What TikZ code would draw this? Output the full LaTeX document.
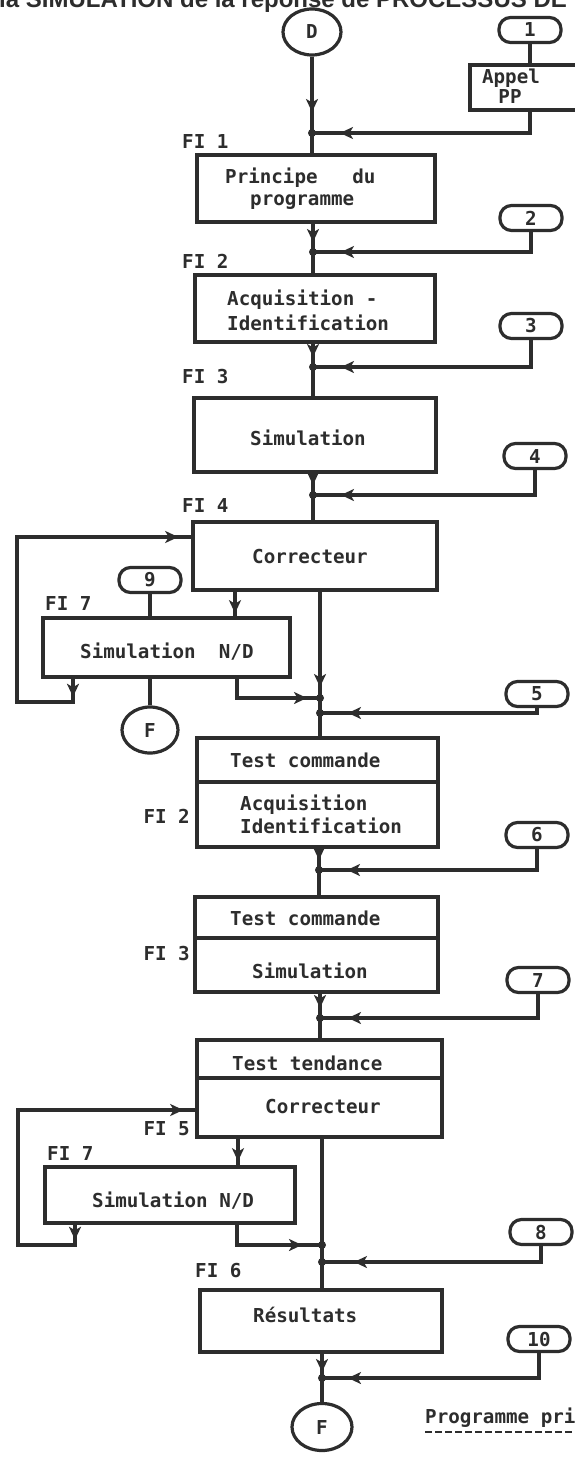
\documentclass[tikz,border=0pt]{standalone}
\usepackage{fontspec}
\usetikzlibrary{arrows.meta,shapes.geometric,decorations.markings}
\newfontfamily\monof{DejaVu Sans Mono}
\newfontfamily\titf{Liberation Sans}
\newcommand{\lblfont}{\monof\bfseries\fontsize{19.2}{22}\selectfont}
\definecolor{ink}{RGB}{45,45,45}
\tikzset{
  ftip/.tip={Stealth[length=13pt,width=12pt,inset=3.5pt]},
  ln/.style={draw=ink, line width=3.2pt},
  bx/.style={draw=ink, line width=3.6pt, rectangle, inner sep=0pt},
  trm/.style={draw=ink, line width=3.2pt, rectangle, rounded corners=11.5pt, minimum width=62pt, minimum height=25pt, inner sep=0pt, font=\lblfont, text=ink},
  elp/.style={draw=ink, line width=3.2pt, ellipse, inner sep=0pt, font=\lblfont, text=ink},
  txt/.style={font=\lblfont, text=ink, inner sep=0pt, text height=11pt, text depth=0pt, anchor=west},
  jdot/.style={circle, fill=ink, inner sep=0pt, minimum size=8pt},
  marr/.style={postaction={decorate}, decoration={markings, mark=at position #1 with {\arrow{ftip}}}},
  marrtwo/.style 2 args={postaction={decorate}, decoration={markings, mark=at position #1 with {\arrow{ftip}}, mark=at position #2 with {\arrow{ftip}}}}
}
\begin{document}
\begin{tikzpicture}[x=1pt,y=-1pt]
\useasboundingbox (0,0) rectangle (575,1458);
\fill[white] (0,0) rectangle (575,1458);

% cut-off heading (only its lower part lies on the page, as in the scan)
\node[anchor=base west, font=\titf\bfseries\fontsize{24}{28}\selectfont, text=ink, inner sep=0pt] (title) at (-1,8) {la SIMULATION de la réponse de PROCESSUS DE};

% start / end
\node[elp, minimum width=58pt, minimum height=46pt] (D) at (312,32) {D};
\node[elp, minimum width=56pt, minimum height=46pt] (F1) at (150,730) {F};
\node[elp, minimum width=60pt, minimum height=47pt] (F2) at (322,1427) {F};

% terminals
\node[trm] (t1) at (530,30) {1};
\node[trm] (t2) at (531,218) {2};
\node[trm] (t3) at (531,326) {3};
\node[trm] (t4) at (535,456) {4};
\node[trm] (t9) at (150,580) {9};
\node[trm] (t5) at (537,694) {5};
\node[trm] (t6) at (537,835) {6};
\node[trm] (t7) at (538,980) {7};
\node[trm] (t8) at (541,1232) {8};
\node[trm] (t10) at (539,1339) {10};

% boxes
\node[bx, minimum width=130pt, minimum height=45pt] (appel) at (535,87.5) {};
\node[bx, minimum width=238pt, minimum height=67pt] (prin) at (316,188.5) {};
\node[bx, minimum width=240pt, minimum height=67pt] (acq) at (315,308.5) {};
\node[bx, minimum width=242pt, minimum height=74pt] (sim) at (315,435) {};
\node[bx, minimum width=244pt, minimum height=68pt] (corr) at (315,556) {};
\node[bx, minimum width=247pt, minimum height=59pt] (snd1) at (166.5,647.5) {};
\node[bx, minimum width=241pt, minimum height=44pt] (tc1a) at (317.5,760) {};
\node[bx, minimum width=241pt, minimum height=65pt] (tc1b) at (317.5,814.5) {};
\node[bx, minimum width=243pt, minimum height=41pt] (tc2a) at (316.5,917.5) {};
\node[bx, minimum width=243pt, minimum height=54pt] (tc2b) at (316.5,965) {};
\node[bx, minimum width=245pt, minimum height=38pt] (tta) at (319.5,1059) {};
\node[bx, minimum width=245pt, minimum height=59pt] (ttb) at (319.5,1107.5) {};
\node[bx, minimum width=250pt, minimum height=56pt] (snd2) at (170,1195) {};
\node[bx, minimum width=242pt, minimum height=62pt] (res) at (321,1321) {};

% texts
\node[txt, anchor=center] (tA) at (511,78) {Appel};
\node[txt, anchor=center] (tP) at (510,98) {PP};
\node[txt] (fi1) at (182,143) {FI 1};
\node[txt] (p1) at (225,178) {Principe\ \ \ du};
\node[txt] (p2) at (250,200) {programme};
\node[txt] (fi2) at (182,263) {FI 2};
\node[txt] (a1) at (227,300) {Acquisition -};
\node[txt] (a2) at (227,325) {Identification};
\node[txt] (fi3) at (182,378) {FI 3};
\node[txt] (s1) at (250,440) {Simulation};
\node[txt] (fi4) at (182,507) {FI 4};
\node[txt] (c1t) at (252,558) {Correcteur};
\node[txt] (fi7a) at (45,605) {FI 7};
\node[txt] (n1) at (80,653) {Simulation\ \ N/D};
\node[txt] (tc1t) at (230,762) {Test commande};
\node[txt] (tc1u) at (240,805) {Acquisition};
\node[txt] (tc1v) at (240,828) {Identification};
\node[txt, anchor=east] (fi2b) at (190,818) {FI 2};
\node[txt] (tc2t) at (230,920) {Test commande};
\node[txt] (tc2u) at (252,973) {Simulation};
\node[txt, anchor=east] (fi3b) at (190,955) {FI 3};
\node[txt] (ttt) at (232,1065) {Test tendance};
\node[txt] (ttu) at (265,1108) {Correcteur};
\node[txt, anchor=east] (fi5) at (190,1130) {FI 5};
\node[txt] (fi7b) at (47,1155) {FI 7};
\node[txt] (n2) at (92,1202) {Simulation N/D};
\node[txt] (fi6) at (195,1272) {FI 6};
\node[txt] (r1) at (253,1317) {Résultats};
\node[txt] (prog) at (425,1418) {Programme principal};
\draw[ink, line width=2pt, dash pattern=on 7pt off 3pt] ([yshift=-8pt]prog.south west) -- ([yshift=-8pt]prog.south east);

% junctions
\coordinate (J1) at (312,133);
\coordinate (J2) at (313,252);
\coordinate (J3) at (313,367);
\coordinate (J4) at (313,495);
\coordinate (J5a) at (320,698);
\coordinate (J5b) at (320,713);
\coordinate (J6) at (319,870);
\coordinate (J7) at (320,1018);
\coordinate (J8a) at (322,1245);
\coordinate (J8b) at (322,1262);
\coordinate (J10) at (322,1378);
% bend points
\coordinate (c1) at (235,600);
\coordinate (o1) at (237,698);
\coordinate (l1a) at (73,702);
\coordinate (l1b) at (17,702);
\coordinate (l1c) at (17,537);
\coordinate (c2) at (238,1150);
\coordinate (o2) at (237,1245);
\coordinate (l2a) at (75,1245);
\coordinate (l2b) at (18,1245);
\coordinate (l2c) at (18,1110);

% connectors
\draw[ln, marr=-21pt] (D.south) -- (J1);
\draw[ln] (t1.south) -- (t1.south |- appel.north);
\draw[ln, marr=-28pt] (t1.south |- appel.south) |- (J1);
\draw[ln] (J1) -- (J1 |- prin.north);
\draw[ln, marr=-10pt] (J2 |- prin.south) -- (J2);
\draw[ln, marr=-28pt] (t2.south) |- (J2);
\draw[ln] (J2) -- (J2 |- acq.north);
\draw[ln, marr=-10pt] (J3 |- acq.south) -- (J3);
\draw[ln, marr=-28pt] (t3.south) |- (J3);
\draw[ln] (J3) -- (J3 |- sim.north);
\draw[ln, marr=-10pt] (J4 |- sim.south) -- (J4);
\draw[ln, marr=-28pt] (t4.south) |- (J4);
\draw[ln] (J4) -- (J4 |- corr.north);
\draw[ln, marr=-11pt] (J5a |- corr.south) -- (J5a);
\draw[ln, marr=-3pt] (c1 |- corr.south) -- (c1 |- snd1.north);
\draw[ln] (t9.south) -- (t9.south |- snd1.north);
\draw[ln] (F1.north |- snd1.south) -- (F1.north);
\draw[ln, marr=-13pt] (o1 |- snd1.south) -- (o1) -- (J5a);
\draw[ln, marrtwo={18pt}{-13pt}] (l1a |- snd1.south) -- (l1a) -- (l1b) -- (l1c) -- (l1c -| corr.west);
\draw[ln] (J5a) -- (J5b) -- (J5b |- tc1a.north);
\draw[ln, marr=-28pt] (t5.south) |- (J5b);
\draw[ln, marr=-10pt] (J6 |- tc1b.south) -- (J6);
\draw[ln, marr=-28pt] (t6.south) |- (J6);
\draw[ln] (J6) -- (J6 |- tc2a.north);
\draw[ln, marr=-10pt] (J7 |- tc2b.south) -- (J7);
\draw[ln, marr=-28pt] (t7.south) |- (J7);
\draw[ln] (J7) -- (J7 |- tta.north);
\draw[ln] (J8a |- ttb.south) -- (J8a) -- (J8b) -- (J8b |- res.north);
\draw[ln, marr=-4pt] (c2 |- ttb.south) -- (c2 |- snd2.north);
\draw[ln, marr=-20pt] (o2 |- snd2.south) -- (o2) -- (J8a);
\draw[ln, marrtwo={15pt}{-12pt}] (l2a |- snd2.south) -- (l2a) -- (l2b) -- (l2c) -- (l2c -| ttb.west);
\draw[ln, marr=-32pt] (t8.south) |- (J8b);
\draw[ln, marr=-6pt] (J10 |- res.south) -- (J10);
\draw[ln, marr=-26pt] (t10.south) |- (J10);
\draw[ln] (J10) -- (F2.north);

% junction dots
\foreach \j in {J1,J2,J3,J4,J5a,J5b,J6,J7,J8a,J8b,J10}
  \node[jdot] (dot\j) at (\j) {};
\end{tikzpicture}
\end{document}
